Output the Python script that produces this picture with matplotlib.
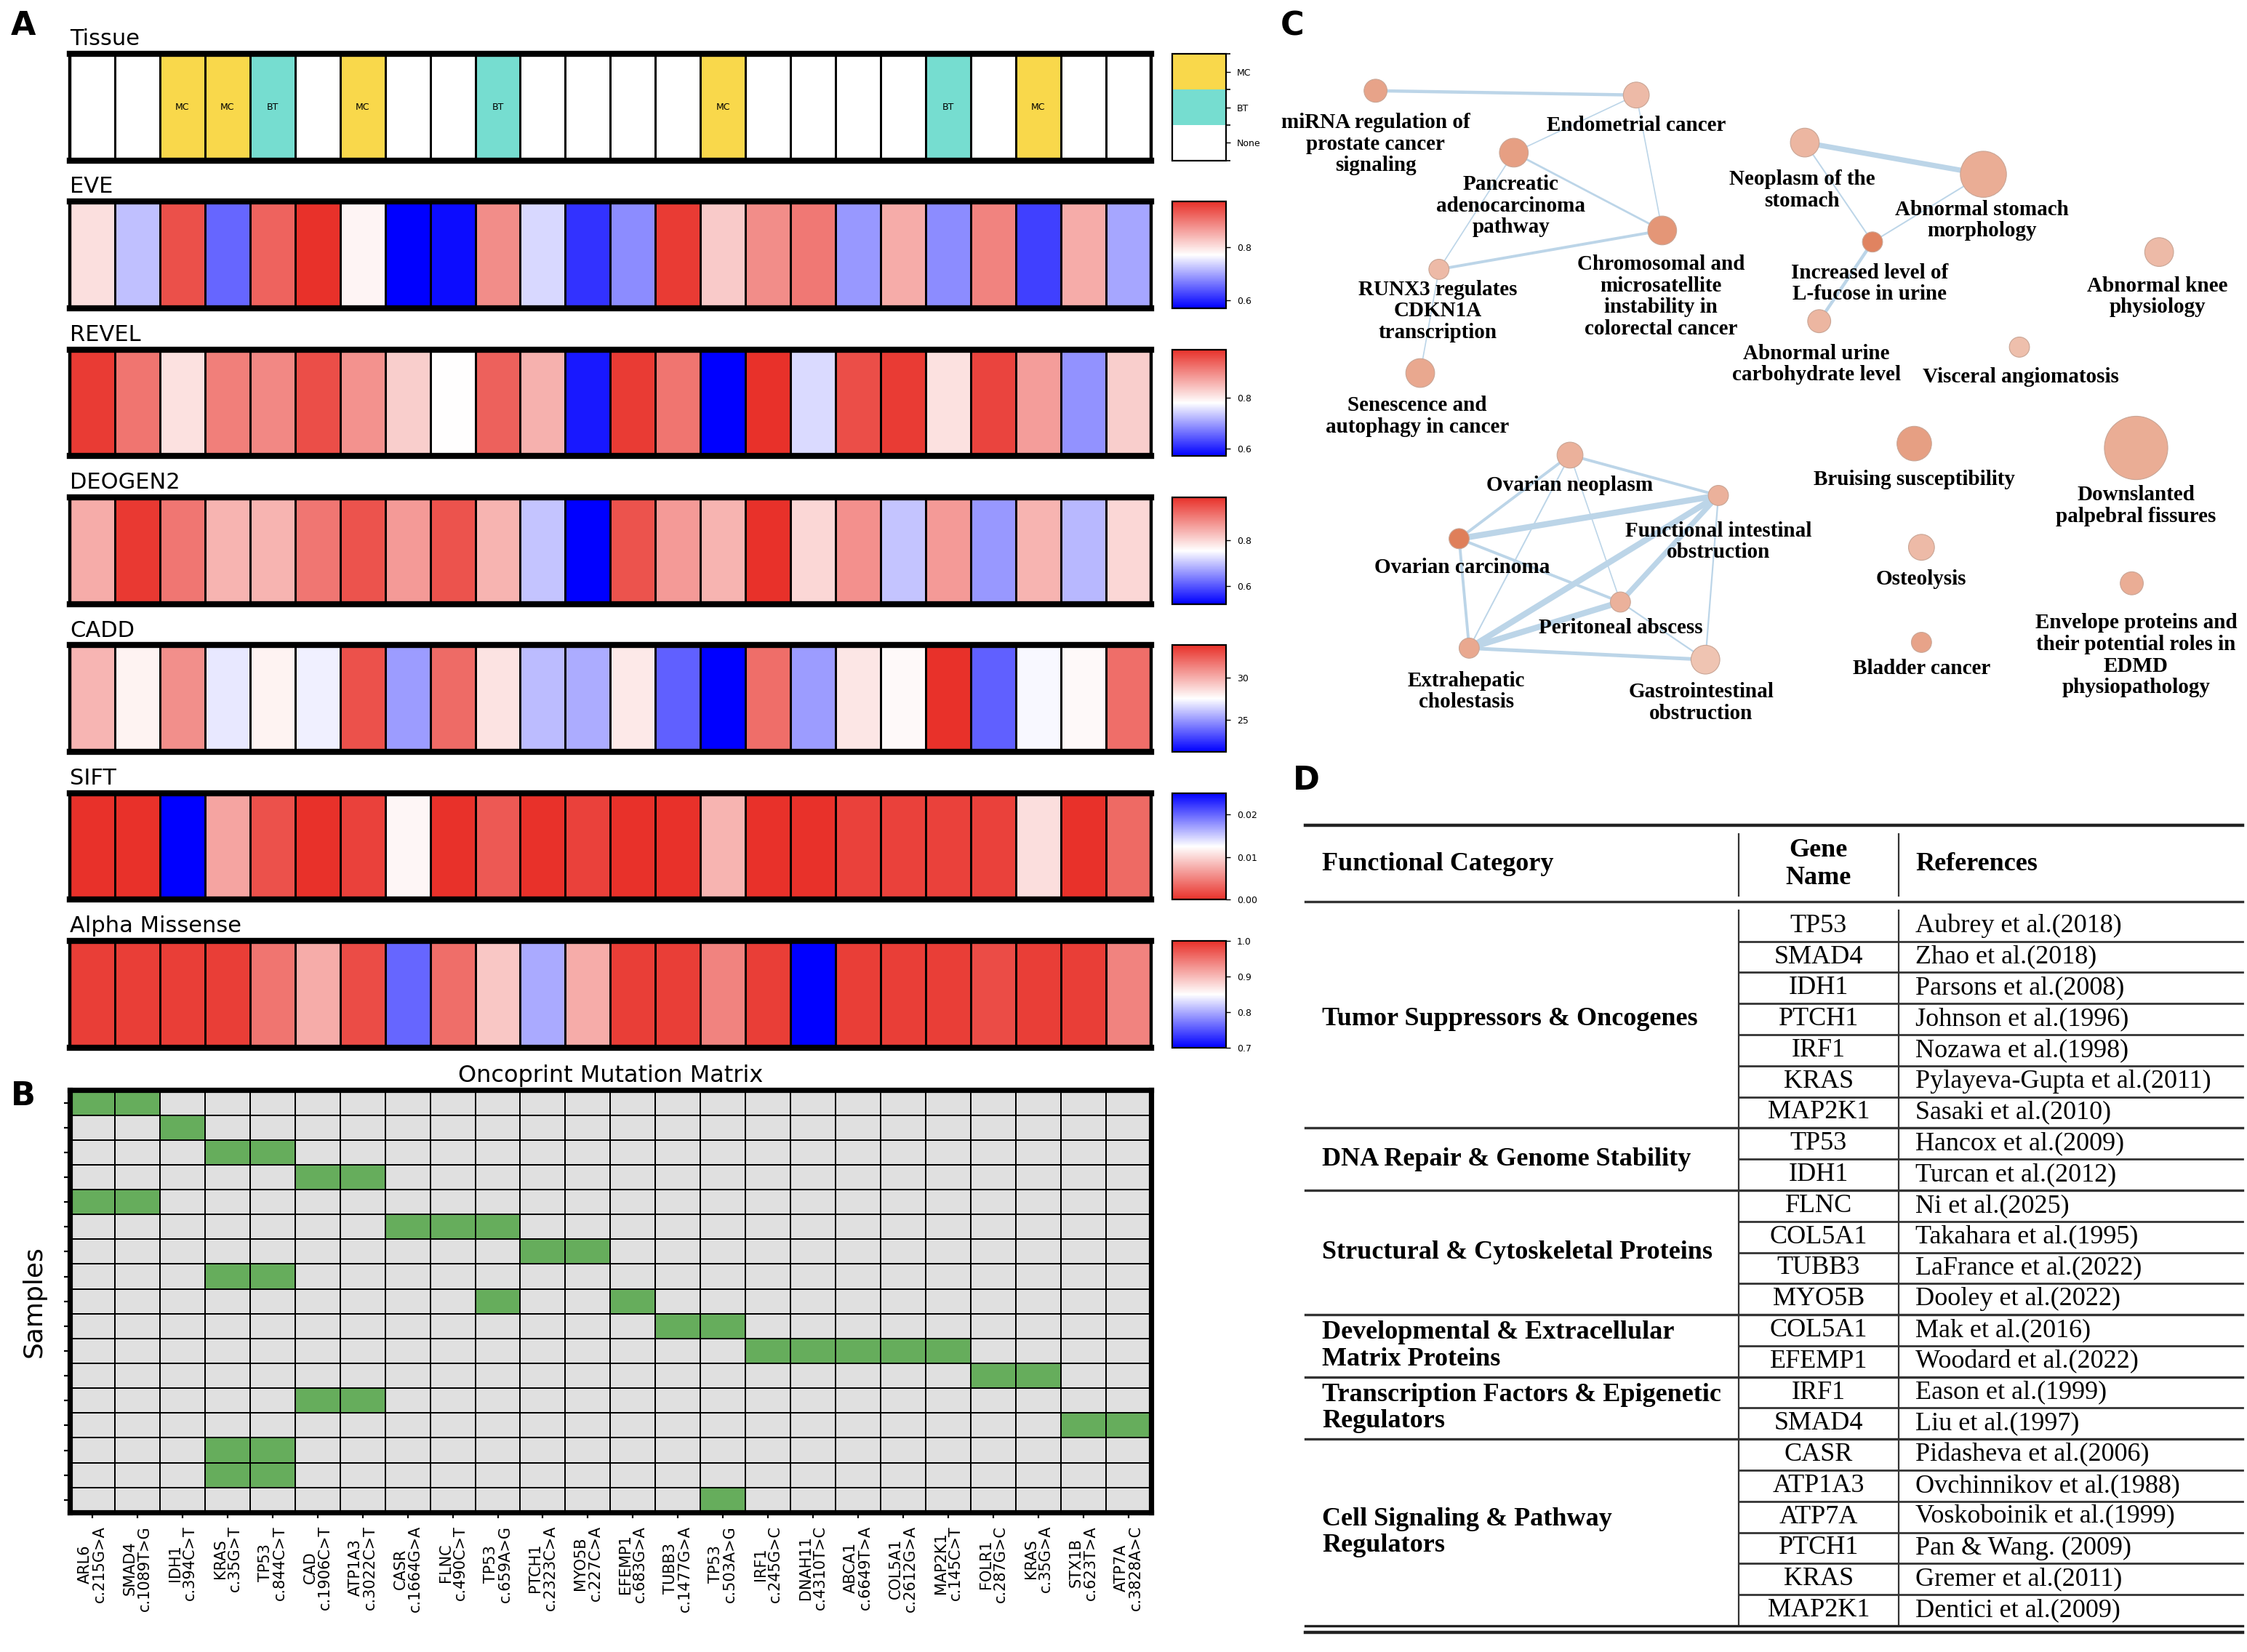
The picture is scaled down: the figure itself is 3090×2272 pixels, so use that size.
import numpy as np
import matplotlib
matplotlib.use('Agg')
import matplotlib.pyplot as plt
from matplotlib.colors import LinearSegmentedColormap, ListedColormap, BoundaryNorm, Normalize
from matplotlib.cm import ScalarMappable
from matplotlib.patches import Circle

# ---------------- DATA ----------------
variants = ["ARL6\nc.215G>A", "SMAD4\nc.1089T>G", "IDH1\nc.394C>T", "KRAS\nc.35G>T",
            "TP53\nc.844C>T", "CAD\nc.1906C>T", "ATP1A3\nc.3022C>T", "CASR\nc.1664G>A",
            "FLNC\nc.490C>T", "TP53\nc.659A>G", "PTCH1\nc.2323C>A", "MYO5B\nc.227C>A",
            "EFEMP1\nc.683G>A", "TUBB3\nc.1477G>A", "TP53\nc.503A>G", "IRF1\nc.245G>C",
            "DNAH11\nc.4310T>C", "ABCA1\nc.6649T>A", "COL5A1\nc.2612G>A", "MAP2K1\nc.145C>T",
            "FOLR1\nc.287G>C", "KRAS\nc.35G>A", "STX1B\nc.623T>A", "ATP7A\nc.3828A>C"]

tissue = ["None", "None", "MC", "MC", "BT", "None", "MC", "None", "None", "BT", "None", "None",
          "None", "None", "MC", "None", "None", "None", "None", "BT", "None", "MC", "None", "None"]
tissue_categories = ["None", "BT", "MC"]

eve = [0.80, 0.72, 0.94, 0.65, 0.92, 0.97, 0.78, 0.57, 0.58, 0.88, 0.74, 0.61,
       0.68, 0.96, 0.82, 0.88, 0.90, 0.69, 0.85, 0.68, 0.89, 0.62, 0.85, 0.70]
revel = [0.98, 0.92, 0.81, 0.91, 0.90, 0.96, 0.89, 0.83, 0.78, 0.94, 0.86, 0.59,
         0.98, 0.92, 0.57, 0.99, 0.75, 0.96, 0.98, 0.81, 0.97, 0.88, 0.69, 0.83]
deogen2 = [0.85, 0.98, 0.91, 0.84, 0.84, 0.91, 0.95, 0.87, 0.95, 0.84, 0.70, 0.52,
           0.95, 0.87, 0.84, 0.99, 0.80, 0.88, 0.70, 0.87, 0.66, 0.84, 0.69, 0.80]
cadd = [29.8, 27.9, 31.0, 27.0, 27.9, 27.2, 32.9, 25.1, 32.1, 28.4, 25.9, 25.5,
        28.2, 23.6, 21.2, 32.0, 25.1, 28.3, 27.7, 33.9, 23.6, 27.4, 27.7, 32.0]
sift = [0.000, 0.000, 0.025, 0.007, 0.002, 0.000, 0.001, 0.012, 0.000, 0.0025, 0.000, 0.001,
        0.000, 0.000, 0.008, 0.000, 0.000, 0.001, 0.001, 0.001, 0.001, 0.0105, 0.000, 0.0035]
alpha_missense = [0.99, 0.99, 0.99, 0.99, 0.95, 0.91, 0.98, 0.76, 0.955, 0.89, 0.80, 0.91,
                  0.99, 0.99, 0.94, 0.99, 0.70, 0.99, 0.99, 0.99, 0.98, 0.99, 0.99, 0.94]

score_names = ["EVE", "REVEL", "DEOGEN2", "CADD", "SIFT", "Alpha Missense"]
score_values = [eve, revel, deogen2, cadd, sift, alpha_missense]
score_limits = [(0.57, 0.97), (0.57, 0.99), (0.52, 0.99), (21.2, 33.9), (0.0, 0.025), (0.7, 1.0)]
score_ticks = [[0.6, 0.8], [0.6, 0.8], [0.6, 0.8], [25, 30], [0.00, 0.01, 0.02], [0.7, 0.8, 0.9, 1.0]]
score_reversed = [False, False, False, False, True, False]

# mutated variant columns for each sample (row)
sample_mutations = [[0, 1], [2], [3, 4], [5, 6], [0, 1], [7, 8, 9], [10, 11], [3, 4], [9, 12],
                    [13, 14], [15, 16, 17, 18, 19], [20, 21], [5, 6], [22, 23], [3, 4], [3, 4], [14]]

# network (panel C)
net_nodes = ["miRNA regulation of\nprostate cancer\nsignaling", "Endometrial cancer",
             "Pancreatic\nadenocarcinoma\npathway",
             "Chromosomal and\nmicrosatellite\ninstability in\ncolorectal cancer",
             "RUNX3 regulates\nCDKN1A\ntranscription", "Senescence and\nautophagy in cancer",
             "Neoplasm of the\nstomach", "Abnormal stomach\nmorphology",
             "Increased level of\nL-fucose in urine", "Abnormal urine\ncarbohydrate level",
             "Visceral angiomatosis", "Abnormal knee\nphysiology", "Ovarian neoplasm",
             "Functional intestinal\nobstruction", "Ovarian carcinoma", "Peritoneal abscess",
             "Extrahepatic\ncholestasis", "Gastrointestinal\nobstruction",
             "Bruising susceptibility", "Downslanted\npalpebral fissures", "Osteolysis",
             "Bladder cancer",
             "Envelope proteins and\ntheir potential roles in\nEDMD\nphysiopathology"]
net_node_size = [8, 9, 10, 10, 7, 10, 10, 16, 7, 8, 7, 10, 9, 7, 7, 7, 7, 10, 12, 22, 9, 7, 8]
net_node_shade = [0.55, 0.3, 0.6, 0.7, 0.3, 0.5, 0.35, 0.45, 0.9, 0.35, 0.25, 0.3, 0.4, 0.4,
                  0.95, 0.4, 0.5, 0.2, 0.6, 0.45, 0.3, 0.55, 0.45]
net_edges = [(0, 1, 1.6), (1, 2, 0.6), (1, 3, 0.6), (2, 3, 1.0), (2, 4, 0.6), (3, 4, 1.4),
             (4, 5, 0.6), (6, 7, 2.6), (6, 8, 0.7), (7, 8, 0.7), (8, 9, 1.6),
             (12, 13, 1.4), (12, 14, 1.4), (12, 16, 0.7), (12, 15, 0.6), (14, 13, 3.0),
             (14, 15, 1.4), (14, 16, 1.4), (13, 16, 3.0), (13, 15, 2.6), (13, 17, 0.8),
             (15, 16, 3.0), (15, 17, 0.8), (16, 17, 1.8)]

# table (panel D)
table_groups = ["Tumor Suppressors & Oncogenes", "DNA Repair & Genome Stability",
                "Structural & Cytoskeletal Proteins", "Developmental & Extracellular\nMatrix Proteins",
                "Transcription Factors & Epigenetic\nRegulators", "Cell Signaling & Pathway\nRegulators"]
table_genes = [["TP53", "SMAD4", "IDH1", "PTCH1", "IRF1", "KRAS", "MAP2K1"],
               ["TP53", "IDH1"],
               ["FLNC", "COL5A1", "TUBB3", "MYO5B"],
               ["COL5A1", "EFEMP1"],
               ["IRF1", "SMAD4"],
               ["CASR", "ATP1A3", "ATP7A", "PTCH1", "KRAS", "MAP2K1"]]
table_refs = [["Aubrey et al.(2018)", "Zhao et al.(2018)", "Parsons et al.(2008)", "Johnson et al.(1996)",
               "Nozawa et al.(1998)", "Pylayeva-Gupta et al.(2011)", "Sasaki et al.(2010)"],
              ["Hancox et al.(2009)", "Turcan et al.(2012)"],
              ["Ni et al.(2025)", "Takahara et al.(1995)", "LaFrance et al.(2022)", "Dooley et al.(2022)"],
              ["Mak et al.(2016)", "Woodard et al.(2022)"],
              ["Eason et al.(1999)", "Liu et al.(1997)"],
              ["Pidasheva et al.(2006)", "Ovchinnikov et al.(1988)", "Voskoboinik et al.(1999)",
               "Pan & Wang. (2009)", "Gremer et al.(2011)", "Dentici et al.(2009)"]]

# ---------------- LAYOUT ----------------
W, H = 1560.0, 1147.0
fig = plt.figure(figsize=(15.45, 11.36), dpi=200)
fig.patch.set_facecolor('white')


def rect(x0, y0, x1, y1):
    return [x0 / W, 1 - y1 / H, (x1 - x0) / W, (y1 - y0) / H]


heat_x0, heat_x1 = 48.5, 799
cb_x0, cb_x1 = 814, 851
row_tops = [37.5, 140, 242.7, 345.4, 448, 550.7, 653.4]
row_h = 74
ncol = len(variants)

cmap = LinearSegmentedColormap.from_list('bwr_custom', ['#0000ff', '#ffffff', '#e8312a'])
tissue_colors = {"None": "#ffffff", "BT": "#76ddd0", "MC": "#f9d84b"}


def style_heat_ax(ax):
    ax.set_xlim(0, ncol)
    ax.set_ylim(0, 1)
    ax.set_xticks([])
    ax.set_yticks([])
    for s in ['left', 'right']:
        ax.spines[s].set_linewidth(1.6)
    for s in ['top', 'bottom']:
        ax.spines[s].set_linewidth(3.0)


# Tissue row
t0 = row_tops[0]
ax = fig.add_axes(rect(heat_x0, t0, heat_x1, t0 + row_h))
codes = np.array([[tissue_categories.index(t) for t in tissue]])
tcmap = ListedColormap([tissue_colors[c] for c in tissue_categories])
tnorm = BoundaryNorm([-0.5, 0.5, 1.5, 2.5], 3)
ax.pcolormesh(np.arange(ncol + 1), [0, 1], codes, cmap=tcmap, norm=tnorm, edgecolors='k', linewidth=0.5)
for i, t in enumerate(tissue):
    if t != "None":
        ax.text(i + 0.5, 0.5, t, ha='center', va='center', fontsize=4.5)
style_heat_ax(ax)
ax.text(0, 1.04, "Tissue", transform=ax.transAxes, ha='left', va='bottom', fontsize=11)
cax = fig.add_axes(rect(cb_x0, t0, cb_x1, t0 + row_h))
cb = fig.colorbar(ScalarMappable(norm=tnorm, cmap=tcmap), cax=cax, ticks=[0, 1, 2])
cb.ax.set_yticklabels(tissue_categories)
cb.ax.tick_params(labelsize=4.5, length=2, width=0.5)
cb.outline.set_linewidth(0.8)

# numeric score rows
for k, (name, vals) in enumerate(zip(score_names, score_values)):
    top = row_tops[k + 1]
    ax = fig.add_axes(rect(heat_x0, top, heat_x1, top + row_h))
    cm = cmap.reversed() if score_reversed[k] else cmap
    norm = Normalize(*score_limits[k])
    ax.pcolormesh(np.arange(ncol + 1), [0, 1], np.array([vals]), cmap=cm, norm=norm,
                  edgecolors='k', linewidth=0.5)
    style_heat_ax(ax)
    ax.text(0, 1.04, name, transform=ax.transAxes, ha='left', va='bottom', fontsize=11)
    cax = fig.add_axes(rect(cb_x0, top, cb_x1, top + row_h))
    cb = fig.colorbar(ScalarMappable(norm=norm, cmap=cm), cax=cax, ticks=score_ticks[k])
    if name == "SIFT":
        cb.ax.set_yticklabels(["%.2f" % v for v in score_ticks[k]])
    elif name == "Alpha Missense":
        cb.ax.set_yticklabels(["%.1f" % v for v in score_ticks[k]])
    cb.ax.tick_params(labelsize=4.5, length=2, width=0.5)
    cb.outline.set_linewidth(0.8)

# Oncoprint
nrow = len(sample_mutations)
mat = np.zeros((nrow, ncol))
for r, cols in enumerate(sample_mutations):
    for c in cols:
        mat[r, c] = 1
ax = fig.add_axes(rect(heat_x0, 757, heat_x1, 1050))
ax.pcolormesh(np.arange(ncol + 1), np.arange(nrow + 1), mat,
              cmap=ListedColormap(['#e0e0e0', '#66ad5c']), vmin=0, vmax=1,
              edgecolors='k', linewidth=0.6)
ax.set_xlim(0, ncol)
ax.set_ylim(nrow, 0)
ax.set_xticks(np.arange(ncol) + 0.5)
ax.set_xticklabels(variants, rotation=90, fontsize=7.5, linespacing=1.0)
ax.set_yticks(np.arange(nrow) + 0.5)
ax.set_yticklabels([])
ax.tick_params(length=3, width=0.8)
for s in ax.spines.values():
    s.set_linewidth(2.6)
ax.set_ylabel("Samples", fontsize=13, labelpad=5)
ax.set_title("Oncoprint Mutation Matrix", fontsize=11.5, pad=4)

# ---------------- overlay: letters, network, table ----------------
ov = fig.add_axes([0, 0, 1, 1])
ov.set_xlim(0, W)
ov.set_ylim(H, 0)
ov.axis('off')
ov.patch.set_alpha(0)

for letter, (lx, ly) in zip("ABCD", [(16, 18), (16, 761), (897, 18), (907, 542)]):
    ov.text(lx, ly, letter, fontsize=16, fontweight='bold', ha='center', va='center')

# network
node_pos = [(955, 63), (1136, 66), (1051, 106), (1154, 160), (999, 187), (986, 259),
            (1253, 99), (1377, 121), (1300, 168), (1263, 223), (1402, 241), (1499, 175),
            (1090, 316), (1193, 344), (1013, 374), (1125, 418), (1020, 450), (1184, 458),
            (1329, 308), (1483, 311), (1334, 380), (1334, 446), (1480, 405)]
label_pos = [(955, 100), (1136, 87), (1049, 143), (1153, 206), (998, 216), (984, 289),
             (1251, 132), (1376, 153), (1298, 197), (1261, 253), (1403, 262), (1498, 206),
             (1090, 337), (1193, 376), (1015, 394), (1125, 436), (1018, 480), (1181, 488),
             (1329, 333), (1483, 351), (1334, 402), (1334, 464), (1483, 455)]
light = np.array([243, 214, 202]) / 255.0
dark = np.array([222, 122, 84]) / 255.0
for a, b, w in net_edges:
    (x0, y0), (x1, y1) = node_pos[a], node_pos[b]
    ov.plot([x0, x1], [y0, y1], color='#bcd5e8', lw=w, solid_capstyle='round', zorder=1)
for (x, y), r, s in zip(node_pos, net_node_size, net_node_shade):
    col = light + (dark - light) * s
    ov.add_patch(Circle((x, y), r, facecolor=col, edgecolor='#c9a595', lw=0.4, zorder=2))
for (x, y), lab in zip(label_pos, net_nodes):
    ov.text(x, y, lab, ha='center', va='center', multialignment='center', fontsize=10.5,
            fontweight='bold', family='Liberation Serif', linespacing=1.12, zorder=3)

# table
tx0, tx1 = 906, 1557
c1, c2 = 1207, 1318
top_rule, head_rule = 573, 626
data_top, rh = 632, 21.6
tfont = dict(family='Liberation Serif', fontsize=13)
ov.plot([tx0, tx1], [top_rule, top_rule], color='#222222', lw=1.6)
ov.plot([tx0, tx1], [head_rule, head_rule], color='#333333', lw=1.2)
ov.plot([c1, c1], [579, 622], color='#333333', lw=0.8)
ov.plot([c2, c2], [579, 622], color='#333333', lw=0.8)
ov.text(918, 600, "Functional Category", ha='left', va='center', fontweight='bold', **tfont)
ov.text((c1 + c2) / 2, 600, "Gene\nName", ha='center', va='center', fontweight='bold',
        linespacing=1.2, **tfont)
ov.text(1330, 600, "References", ha='left', va='center', fontweight='bold', **tfont)

row = 0
for g, (grp, genes, refs) in enumerate(zip(table_groups, table_genes, table_refs)):
    g_top = data_top + row * rh
    g_bot = g_top + len(genes) * rh
    if g > 0:
        ov.plot([tx0, tx1], [g_top, g_top], color='#333333', lw=1.2)
    ov.text(918, (g_top + g_bot) / 2, grp, ha='left', va='center', fontweight='bold',
            linespacing=1.15, **tfont)
    for i, (gene, ref) in enumerate(zip(genes, refs)):
        y0 = g_top + i * rh
        if i > 0:
            ov.plot([c1, tx1], [y0, y0], color='#333333', lw=1.0)
        ov.text((c1 + c2) / 2, y0 + rh / 2, gene, ha='center', va='center', **tfont)
        ov.text(1330, y0 + rh / 2, ref, ha='left', va='center', **tfont)
    row += len(genes)
data_bot = data_top + row * rh
ov.plot([c1, c1], [data_top, data_bot], color='#333333', lw=0.8)
ov.plot([c2, c2], [data_top, data_bot], color='#333333', lw=0.8)
ov.plot([tx0, tx1], [data_bot, data_bot], color='#222222', lw=1.2)
ov.plot([tx0, tx1], [data_bot + 4.5, data_bot + 4.5], color='#222222', lw=1.6)

fig.savefig('out.png', dpi=200, facecolor='white')
